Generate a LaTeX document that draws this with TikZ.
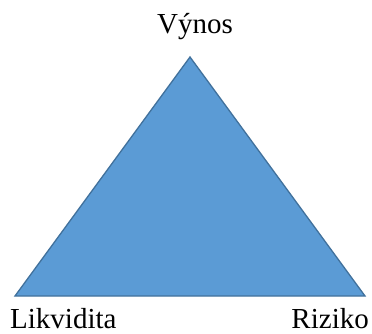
\documentclass[tikz,border=0pt]{standalone}
\usepackage{fontspec}
\setmainfont{Liberation Serif}
\begin{document}
\begin{tikzpicture}[x=1pt,y=-1pt,
  lbl/.style={font=\fontsize{29}{35}\selectfont, inner sep=0pt},
  tri/.style={fill={rgb,255:red,91;green,155;blue,213}, draw={rgb,255:red,65;green,113;blue,156}, line width=1.3pt, line join=miter}]
\useasboundingbox (0,0) rectangle (372,334);
\coordinate (top) at (190,57);
\coordinate (bl) at (15,296);
\coordinate (br) at (365,296);
\draw[tri] (top) -- (br) -- (bl) -- cycle;
\node[lbl, anchor=base] (vynos) at (195,34) {Výnos};
\node[lbl, anchor=base west] (likv) at (10,328) {Likvidita};
\node[lbl, anchor=base east] (riz) at (369,328) {Riziko};
\end{tikzpicture}
\end{document}
